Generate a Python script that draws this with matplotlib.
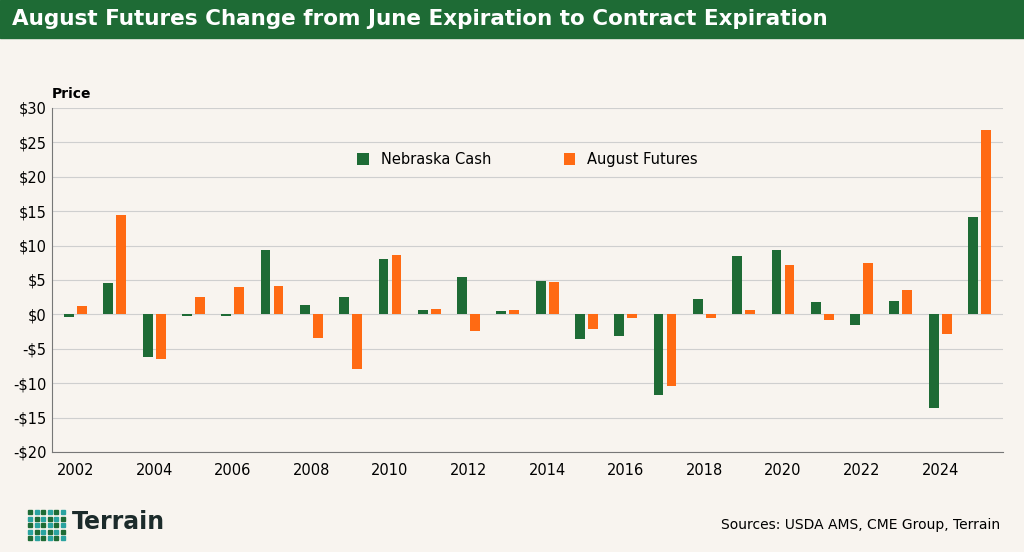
import matplotlib
matplotlib.use("Agg")
import matplotlib.pyplot as plt
import numpy as np

years = list(range(2002, 2026))
nebraska_cash = [-0.4, 4.5, -6.2, -0.2, -0.3, 9.4, 1.4, 2.6, 8.0, 0.7, 5.4, 0.5, 4.9, -3.6, -3.2, -11.7, 2.2, 8.5, 9.3, 1.8, -1.5, 2.0, -13.6, 14.2]
august_futures = [1.2, 14.5, -6.5, 2.5, 4.0, 4.1, -3.4, -7.9, 8.7, 0.8, -2.4, 0.7, 4.7, -2.1, -0.5, -10.4, -0.5, 0.7, 7.2, -0.8, 7.4, 3.5, -2.9, 26.8]
yticks = list(range(-20, 31, 5))

bg = "#f8f4ef"
green = "#1e6b35"
orange = "#ff6a13"
W, H = 1024, 552
fig = plt.figure(figsize=(W/100, H/100), dpi=100, facecolor=bg)

fig.patches.append(plt.Rectangle((0, 1-38/H), 1, 38/H, transform=fig.transFigure, color=green, zorder=0))
fig.text(12/W, 1-19/H, "August Futures Change from June Expiration to Contract Expiration",
         color="white", fontsize=15.5, fontweight="bold", va="center", ha="left")

ax = fig.add_axes([52/W, 1-452/H, (1003-52)/W, (452-108)/H])
ax.set_facecolor(bg)
x = np.array(years)
w = 0.25
ax.bar(x - w/2 - 0.04, nebraska_cash, width=w, color=green, label="Nebraska Cash", zorder=3)
ax.bar(x + w/2 + 0.04, august_futures, width=w, color=orange, label="August Futures", zorder=3)
ax.set_ylim(-20, 30)
ax.set_xlim(2001.4, 2025.6)
ax.set_yticks(yticks)
ax.set_yticklabels([f"-${abs(v)}" if v < 0 else f"${v}" for v in yticks], fontsize=10.5)
ax.set_xticks(list(range(2002, 2025, 2)))
ax.tick_params(axis="x", labelsize=10.5, length=0, pad=8)
ax.tick_params(axis="y", length=0, pad=4)
ax.grid(axis="y", color="#cfcfcf", linewidth=0.8, zorder=0)
for s in ["top", "right"]:
    ax.spines[s].set_visible(False)
ax.spines["left"].set_color("#777777")
ax.spines["bottom"].set_color("#777777")
ax.text(0, 1.02, "Price", transform=ax.transAxes, fontsize=10, fontweight="bold", ha="left", va="bottom")
ax.legend(loc="upper center", bbox_to_anchor=(0.5, 0.91), ncol=2, frameon=False, fontsize=10.5,
          handlelength=0.8, handleheight=0.8, columnspacing=5)

for i in range(5):
    for j in range(6):
        fig.patches.append(plt.Rectangle(((28 + j*6.5)/W, 1-(510 + i*6.5)/H - 4/H), 4/W, 4/H,
                                         transform=fig.transFigure, color="#2aa3a0" if (i+j) % 2 else "#1e6b35"))
fig.text(72/W, 1-522/H, "Terrain", fontsize=17, fontweight="bold", color="#1c2b2b", va="center")
fig.text(1000/W, 1-525/H, "Sources: USDA AMS, CME Group, Terrain", fontsize=10, ha="right", va="center")

fig.savefig("out.png", dpi=100, facecolor=bg)
